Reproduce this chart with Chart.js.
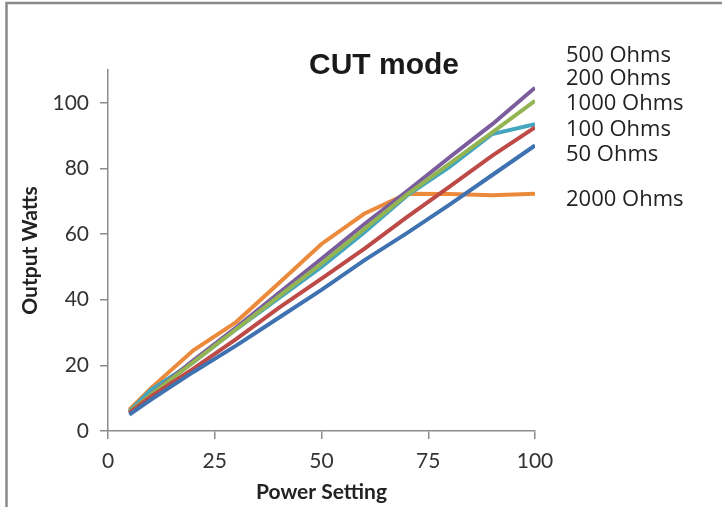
<!DOCTYPE html>
<html>
<head>
<meta charset="utf-8">
<script src="https://cdn.jsdelivr.net/npm/chart.js@4/dist/chart.umd.min.js"></script>
<style>
  html, body { margin: 0; padding: 0; background: #fff; }
  #wrap { width: 722px; height: 507px; position: relative; }
</style>
</head>
<body>
<div id="wrap"><canvas id="cutChart" width="722" height="507"></canvas></div>
<script>
// power settings (x) and output watts per load
const powerSetting = [5, 10, 20, 30, 40, 50, 60, 70, 80, 90, 100];
const ohms50   = [5, 9.5, 18, 26, 34.5, 43, 52, 60.3, 69, 78, 87];
const ohms100  = [5.5, 10.5, 19, 28, 37.5, 46.4, 55.5, 65.2, 74.5, 83.9, 92.5];
const ohms200  = [5.8, 11, 21, 31, 41, 51, 61.5, 72, 81.5, 91, 100.6];
const ohms500  = [5.5, 11, 21.5, 31.5, 42, 52.5, 63, 73, 83.4, 93.5, 104.6];
const ohms1000 = [6, 12.5, 21, 31, 40.5, 50, 60.5, 71.7, 80.5, 90.5, 93.5];
const ohms2000 = [6.5, 13, 24.6, 33.2, 45, 57, 66.2, 72.3, 72.2, 71.8, 72.3];
const seriesNames = ['50 Ohms', '100 Ohms', '200 Ohms', '500 Ohms', '1000 Ohms', '2000 Ohms'];
const xTicks = [0, 25, 50, 75, 100];
const yTicks = [0, 20, 40, 60, 80, 100];

// legend labels in the order they appear at the right
const legendOrder = ['500 Ohms', '200 Ohms', '1000 Ohms', '100 Ohms', '50 Ohms', '2000 Ohms'];
const legendY = [56, 79, 104, 130, 155, 200];

const colors = ['#3f72b0', '#bd4a47', '#93b452', '#7b5d9e', '#44a5bf', '#ec8a3c'];
const allData = [ohms50, ohms100, ohms200, ohms500, ohms1000, ohms2000];

const datasets = allData.map(function(vals, i) {
    return {
        label: seriesNames[i],
        data: vals.map(function(v, j) { return { x: powerSetting[j], y: v }; }),
        borderColor: colors[i],
        backgroundColor: colors[i],
        borderWidth: 4,
        pointRadius: 0,
        tension: 0,
        fill: false
    };
});

// frame, title and right-side labels
const extras = {
    id: 'extras',
    afterDraw: function(chart) {
        const c = chart.ctx;
        c.save();
        c.strokeStyle = '#8a8a8a';
        c.lineWidth = 2.5;
        c.beginPath();
        c.moveTo(6.5, 507);
        c.lineTo(6.5, 3);
        c.lineTo(722, 3);
        c.stroke();

        c.fillStyle = '#1a1a1a';
        c.font = 'bold 30px "Liberation Sans", Arial, sans-serif';
        c.textAlign = 'center';
        c.textBaseline = 'middle';
        c.fillText('CUT mode', 384, 66);

        c.font = '22px "Open Sans", "Noto Sans", sans-serif';
        c.textAlign = 'left';
        c.fillStyle = '#222';
        legendOrder.forEach(function(t, i) {
            c.fillText(t, 566, legendY[i]);
        });
        c.restore();
    }
};

const ctx = document.getElementById('cutChart').getContext('2d');
const cutChart = new Chart(ctx, {
    type: 'line',
    data: { datasets: datasets },
    options: {
        responsive: false,
        animation: false,
        layout: { padding: { top: 70, right: 187, bottom: 0, left: 0 } },
        plugins: {
            legend: { display: false },
            title: { display: false },
            tooltip: { enabled: false }
        },
        scales: {
            x: {
                type: 'linear',
                min: 0,
                max: 100,
                afterFit: function(s) { s.height = 76; },
                afterBuildTicks: function(s) { s.ticks = xTicks.map(function(v) { return { value: v }; }); },
                border: { color: '#8c8c8c', width: 1.5 },
                grid: { drawOnChartArea: false, tickLength: 8, color: '#8c8c8c', lineWidth: 1.5 },
                ticks: {
                    color: '#333',
                    padding: 10,
                    font: { family: 'Lato, "Open Sans", sans-serif', size: 21 },
                    maxRotation: 0
                },
                title: {
                    display: true,
                    text: 'Power Setting',
                    color: '#222',
                    font: { family: 'Lato, "Open Sans", sans-serif', size: 21, weight: 'bold' },
                    padding: { top: 0, bottom: 2 }
                }
            },
            y: {
                min: 0,
                max: 110,
                afterFit: function(s) { s.width = 108; },
                afterBuildTicks: function(s) { s.ticks = yTicks.map(function(v) { return { value: v }; }); },
                border: { color: '#8c8c8c', width: 1.5 },
                grid: { drawOnChartArea: false, tickLength: 8, color: '#8c8c8c', lineWidth: 1.5 },
                ticks: {
                    color: '#333',
                    padding: 11,
                    font: { family: 'Lato, "Open Sans", sans-serif', size: 21 }
                },
                title: {
                    display: true,
                    text: 'Output Watts',
                    color: '#222',
                    font: { family: 'Lato, "Open Sans", sans-serif', size: 21, weight: 'bold' },
                    padding: { top: 18, bottom: 0 }
                }
            }
        }
    },
    plugins: [extras]
});
</script>
</body>
</html>
